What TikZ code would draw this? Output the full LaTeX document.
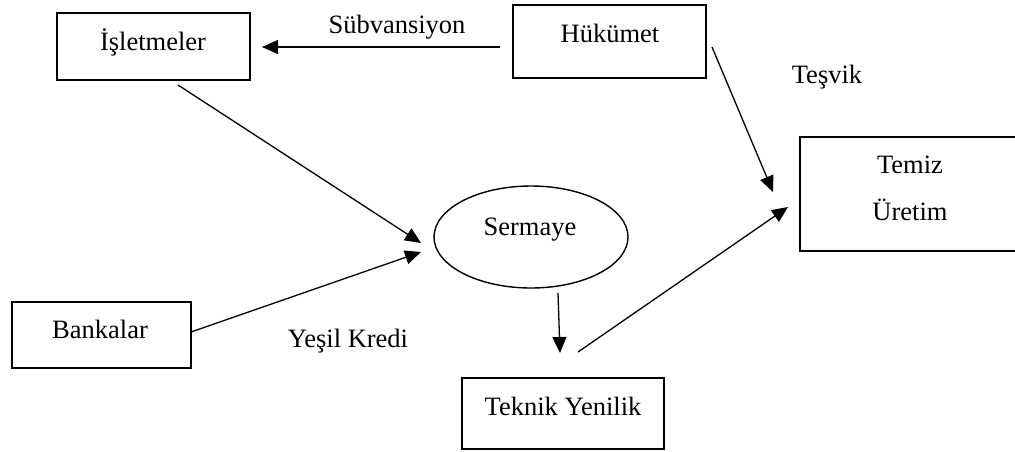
\documentclass[tikz,border=0pt]{standalone}
\usepackage{fontspec}
\setmainfont{Liberation Serif}
\usetikzlibrary{arrows.meta,shapes.geometric}
\begin{document}
\begin{tikzpicture}[x=1pt,y=-1pt,
  box/.style={draw,line width=1.8pt,inner sep=0pt},
  oval/.style={draw,ellipse,line width=1.4pt,inner sep=0pt},
  flow/.style={line width=1.3pt,-{Triangle[length=16pt,width=14pt]}},
  txt/.style={anchor=base,inner sep=0pt,font=\fontsize{26.5}{31}\selectfont}]
\useasboundingbox (0,0) rectangle (1015,451);

% boxes and the ellipse
\node[box,minimum width=193pt,minimum height=67pt]  (isl) at (153.5,46.5) {};
\node[box,minimum width=193pt,minimum height=73pt]  (huk) at (609.5,41.5) {};
\node[box,minimum width=220pt,minimum height=114pt] (tem) at (910,194) {};
\node[box,minimum width=179pt,minimum height=66pt]  (bnk) at (101.5,335) {};
\node[box,minimum width=202pt,minimum height=71pt]  (tek) at (563,413.5) {};
\node[oval,minimum width=194pt,minimum height=102pt] (ser) at (531,237) {};

% texts
\node[txt] (islT) at (153,50)  {İşletmeler};
\node[txt] (hukT) at (610,42)  {Hükümet};
\node[txt] (temT1) at (910,173) {Temiz};
\node[txt] (temT2) at (910,220) {Üretim};
\node[txt] (bnkT) at (100,338) {Bankalar};
\node[txt] (tekT) at (563,415) {Teknik Yenilik};
\node[txt] (serT) at (530,235) {Sermaye};
\node[txt] (subT) at (397,33)  {Sübvansiyon};
\node[txt] (tesT) at (827,83)  {Teşvik};
\node[txt] (yesT) at (348,347) {Yeşil Kredi};

% connector end points
\coordinate (hukW) at (500,47);
\coordinate (islE) at (262,47);
\coordinate (hukE) at (712,47);
\coordinate (temN) at (773,192);
\coordinate (islS) at (178,85);
\coordinate (serW1) at (421,243);
\coordinate (bnkE) at (191,332);
\coordinate (serW2) at (421,252);
\coordinate (serS) at (558,293);
\coordinate (tekN) at (560,353);
\coordinate (tekNE) at (578,352);
\coordinate (temW) at (788,207);

% connectors
\draw[flow] (hukW) -- (islE);
\draw[flow] (hukE) -- (temN);
\draw[flow] (islS) -- (serW1);
\draw[flow] (bnkE) -- (serW2);
\draw[flow] (serS) -- (tekN);
\draw[flow] (tekNE) -- (temW);
\end{tikzpicture}
\end{document}
